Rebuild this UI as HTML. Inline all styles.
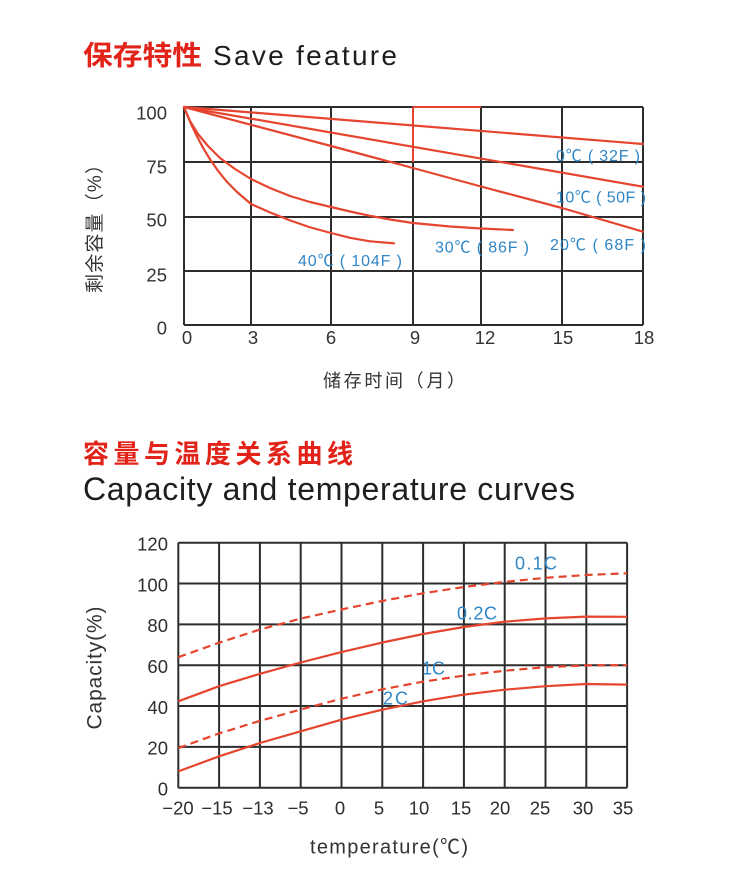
<!DOCTYPE html>
<html>
<head>
<meta charset="utf-8">
<style>
  html,body{margin:0;padding:0;background:#fff;}
  svg{display:block;}
  .cjk{font-family:"Liberation Sans","Noto Sans CJK SC",sans-serif;}
  .lat{font-family:"Liberation Sans",sans-serif;}
</style>
</head>
<body>
<svg width="750" height="894" viewBox="0 0 750 894" xmlns="http://www.w3.org/2000/svg">
  <rect x="0" y="0" width="750" height="894" fill="#fff"/>

  <!-- ===== Title 1 ===== -->
  <text x="83" y="65" class="cjk" font-size="27" font-weight="bold" fill="#e2231a" textLength="119" lengthAdjust="spacingAndGlyphs">保存特性</text>
  <text x="213" y="65" class="lat" font-size="28" fill="#1e1e1e" textLength="184" lengthAdjust="spacing">Save feature</text>

  <!-- ===== Top chart grid ===== -->
  <g stroke="#2d2d2d" stroke-width="2" fill="none">
    <line x1="184" y1="107" x2="184" y2="325"/>
    <line x1="251" y1="107" x2="251" y2="325"/>
    <line x1="331" y1="107" x2="331" y2="325"/>
    <line x1="413" y1="107" x2="413" y2="325"/>
    <line x1="481" y1="107" x2="481" y2="325"/>
    <line x1="562" y1="107" x2="562" y2="325"/>
    <line x1="643" y1="107" x2="643" y2="325"/>
    <line x1="184" y1="107" x2="643" y2="107"/>
    <line x1="184" y1="162" x2="643" y2="162"/>
    <line x1="184" y1="217" x2="643" y2="217"/>
    <line x1="184" y1="271" x2="643" y2="271"/>
    <line x1="184" y1="325" x2="643" y2="325"/>
  </g>
  <!-- red highlight box -->
  <g stroke="#e5452f" stroke-width="2" fill="none">
    <line x1="413" y1="107" x2="413" y2="162"/>
    <line x1="413" y1="107" x2="481" y2="107"/>
  </g>

  <!-- top curves -->
  <g stroke="#e5452f" stroke-width="2.2" fill="none" stroke-linejoin="round" stroke-linecap="round">
    <polyline points="184,107 643,144"/>
    <polyline points="184,107 643,186.7"/>
    <polyline points="184,107 331,146 413,168 481,186.5 562,208 643,231.7"/>
    <polyline points="184,107 190,121 198,134 208,146 220,158 235,169 251,179 270,188 290,196 310,202 331,207 350,211.5 370,215.8 390,219.5 413,223 450,226.5 481,228.5 513,230"/>
    <polyline points="184,107 188,116.8 192,126 197,136.4 203,147.7 210,159.3 218,170.8 227,181.9 237,192 251,204 269,212 289,220 309,227 331,233 350,237.8 370,241.3 394,243.3"/>
  </g>

  <!-- top curve labels -->
  <g class="cjk" font-size="16" fill="#2f86c6">
    <text x="556" y="161" textLength="84" lengthAdjust="spacing">0℃ ( 32F )</text>
    <text x="556" y="202.5" textLength="90" lengthAdjust="spacing">10℃ ( 50F )</text>
    <text x="550" y="250" textLength="96" lengthAdjust="spacing">20℃ ( 68F )</text>
    <text x="435" y="252.5" textLength="94" lengthAdjust="spacing">30℃ ( 86F )</text>
    <text x="298" y="266" textLength="104" lengthAdjust="spacing">40℃ ( 104F )</text>
  </g>

  <!-- top y ticks -->
  <g class="lat" font-size="18.5" fill="#333" text-anchor="end">
    <text x="167" y="119.5">100</text>
    <text x="167" y="173.5">75</text>
    <text x="167" y="226.5">50</text>
    <text x="167" y="281.5">25</text>
    <text x="167" y="334.5">0</text>
  </g>
  <!-- top x ticks -->
  <g class="lat" font-size="18.5" fill="#333" text-anchor="middle">
    <text x="187" y="344">0</text>
    <text x="253" y="344">3</text>
    <text x="331" y="344">6</text>
    <text x="415" y="344">9</text>
    <text x="485" y="344">12</text>
    <text x="563" y="344">15</text>
    <text x="644" y="344">18</text>
  </g>
  <!-- top axis titles -->
  <text x="323" y="387" class="cjk" font-size="18" fill="#333" textLength="142" lengthAdjust="spacing">储存时间（月）</text>
  <text transform="translate(101,224) rotate(-90)" class="cjk" font-size="19" fill="#333" text-anchor="middle" textLength="138" lengthAdjust="spacing">剩余容量（%）</text>

  <!-- ===== Title 2 ===== -->
  <text x="83" y="463" class="cjk" font-size="26" font-weight="bold" fill="#e2231a" textLength="270" lengthAdjust="spacing">容量与温度关系曲线</text>
  <text x="83" y="500" class="lat" font-size="32" fill="#1e1e1e" textLength="492" lengthAdjust="spacing">Capacity and temperature curves</text>

  <!-- ===== Bottom chart grid ===== -->
  <g stroke="#2d2d2d" stroke-width="2" fill="none">
    <line x1="178.3" y1="542.7" x2="178.3" y2="787.7"/>
    <line x1="219.1" y1="542.7" x2="219.1" y2="787.7"/>
    <line x1="259.9" y1="542.7" x2="259.9" y2="787.7"/>
    <line x1="300.7" y1="542.7" x2="300.7" y2="787.7"/>
    <line x1="341.5" y1="542.7" x2="341.5" y2="787.7"/>
    <line x1="382.3" y1="542.7" x2="382.3" y2="787.7"/>
    <line x1="423.1" y1="542.7" x2="423.1" y2="787.7"/>
    <line x1="463.9" y1="542.7" x2="463.9" y2="787.7"/>
    <line x1="504.7" y1="542.7" x2="504.7" y2="787.7"/>
    <line x1="545.5" y1="542.7" x2="545.5" y2="787.7"/>
    <line x1="586.3" y1="542.7" x2="586.3" y2="787.7"/>
    <line x1="627.1" y1="542.7" x2="627.1" y2="787.7"/>
    <line x1="178.3" y1="542.7" x2="627.1" y2="542.7"/>
    <line x1="178.3" y1="583.5" x2="627.1" y2="583.5"/>
    <line x1="178.3" y1="624.4" x2="627.1" y2="624.4"/>
    <line x1="178.3" y1="665.2" x2="627.1" y2="665.2"/>
    <line x1="178.3" y1="706.0" x2="627.1" y2="706.0"/>
    <line x1="178.3" y1="746.9" x2="627.1" y2="746.9"/>
    <line x1="178.3" y1="787.7" x2="627.1" y2="787.7"/>
  </g>

  <!-- bottom curves -->
  <g stroke="#e5452f" stroke-width="2.2" fill="none" stroke-linejoin="round">
    <polyline stroke-dasharray="8 5" points="178.3,657.2 219.1,642.7 259.9,629.5 300.7,618.6 341.5,609.5 382.3,600.9 423.1,593.3 463.9,587.0 504.7,581.9 545.5,577.8 586.3,575.0 627.1,573.3"/>
    <polyline points="178.3,701.3 219.1,686.2 259.9,673.8 300.7,662.5 341.5,652.1 382.3,642.5 423.1,634.0 463.9,627.0 504.7,621.7 545.5,618.4 586.3,616.6 627.1,616.8"/>
    <polyline stroke-dasharray="8 5" points="178.3,748.1 219.1,733.4 259.9,720.9 300.7,709.5 341.5,698.7 382.3,689.3 423.1,681.7 463.9,675.6 504.7,670.7 545.5,667.2 586.3,665.4 627.1,665.2"/>
    <polyline points="178.3,771.4 219.1,756.3 259.9,743.0 300.7,731.3 341.5,719.7 382.3,709.7 423.1,701.3 463.9,694.6 504.7,689.7 545.5,686.2 586.3,684.0 627.1,684.6"/>
  </g>

  <!-- bottom curve labels -->
  <g class="lat" font-size="18" fill="#2f86c6">
    <text x="515" y="569.5" textLength="42" lengthAdjust="spacing">0.1C</text>
    <text x="457" y="619.5" textLength="40" lengthAdjust="spacing">0.2C</text>
    <text x="422" y="674.5" textLength="23" lengthAdjust="spacing">1C</text>
    <text x="383" y="704.5" textLength="25" lengthAdjust="spacing">2C</text>
  </g>

  <!-- bottom y ticks -->
  <g class="lat" font-size="18.5" fill="#2e2e2e" text-anchor="end">
    <text x="168" y="550.5">120</text>
    <text x="168" y="591.3">100</text>
    <text x="168" y="632.2">80</text>
    <text x="168" y="673">60</text>
    <text x="168" y="713.8">40</text>
    <text x="168" y="754.7">20</text>
    <text x="168" y="795.5">0</text>
  </g>
  <!-- bottom x ticks -->
  <g class="lat" font-size="18.5" fill="#2e2e2e" text-anchor="middle">
    <text x="178" y="814.5">−20</text>
    <text x="217" y="814.5">−15</text>
    <text x="258" y="814.5">−13</text>
    <text x="298" y="814.5">−5</text>
    <text x="340" y="814.5">0</text>
    <text x="379" y="814.5">5</text>
    <text x="419" y="814.5">10</text>
    <text x="461" y="814.5">15</text>
    <text x="500" y="814.5">20</text>
    <text x="540" y="814.5">25</text>
    <text x="583" y="814.5">30</text>
    <text x="623" y="814.5">35</text>
  </g>
  <!-- bottom axis titles -->
  <text x="310" y="853.5" class="cjk" font-size="20" fill="#333" textLength="158" lengthAdjust="spacing">temperature(℃)</text>
  <text transform="translate(101.7,668) rotate(-90)" class="lat" font-size="21" fill="#333" text-anchor="middle" textLength="123" lengthAdjust="spacing">Capacity(%)</text>
</svg>
</body>
</html>
